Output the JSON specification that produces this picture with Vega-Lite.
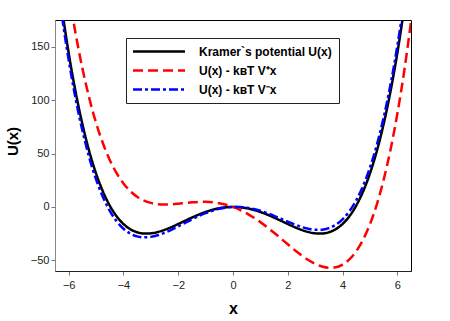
{
  "$schema": "https://vega.github.io/schema/vega-lite/v6.json",
  "width": 356,
  "height": 251,
  "autosize": {"type": "none"},
  "padding": {"left": 55, "top": 20, "right": 39, "bottom": 50},
  "background": "white",
  "config": {
    "font": "Liberation Sans",
    "view": {"stroke": "black", "strokeWidth": 1},
    "legend": {
      "title": null, "orient": "none", "legendX": 71, "legendY": 18,
      "symbolType": "M-5.2,0H5.2", "symbolSize": 100, "symbolStrokeWidth": 2.5,
      "labelFontSize": 12, "labelFontWeight": "bold", "labelColor": "black",
      "labelOffset": 53, "padding": 7, "rowPadding": 6,
      "strokeColor": "#222", "fillColor": "white"
    }
  },
  "datasets": {
    "curves": [
      {"x": -6.5, "y": 235.02, "s": "Kramer`s potential U(x)"},
      {"x": -6.25, "y": 186.16, "s": "Kramer`s potential U(x)"},
      {"x": -6, "y": 144, "s": "Kramer`s potential U(x)"},
      {"x": -5.75, "y": 107.97, "s": "Kramer`s potential U(x)"},
      {"x": -5.5, "y": 77.52, "s": "Kramer`s potential U(x)"},
      {"x": -5.25, "y": 52.11, "s": "Kramer`s potential U(x)"},
      {"x": -5, "y": 31.25, "s": "Kramer`s potential U(x)"},
      {"x": -4.75, "y": 14.46, "s": "Kramer`s potential U(x)"},
      {"x": -4.5, "y": 1.27, "s": "Kramer`s potential U(x)"},
      {"x": -4.25, "y": -8.75, "s": "Kramer`s potential U(x)"},
      {"x": -4, "y": -16, "s": "Kramer`s potential U(x)"},
      {"x": -3.75, "y": -20.88, "s": "Kramer`s potential U(x)"},
      {"x": -3.5, "y": -23.73, "s": "Kramer`s potential U(x)"},
      {"x": -3.25, "y": -24.92, "s": "Kramer`s potential U(x)"},
      {"x": -3, "y": -24.75, "s": "Kramer`s potential U(x)"},
      {"x": -2.75, "y": -23.51, "s": "Kramer`s potential U(x)"},
      {"x": -2.5, "y": -21.48, "s": "Kramer`s potential U(x)"},
      {"x": -2.25, "y": -18.91, "s": "Kramer`s potential U(x)"},
      {"x": -2, "y": -16, "s": "Kramer`s potential U(x)"},
      {"x": -1.75, "y": -12.97, "s": "Kramer`s potential U(x)"},
      {"x": -1.5, "y": -9.98, "s": "Kramer`s potential U(x)"},
      {"x": -1.25, "y": -7.2, "s": "Kramer`s potential U(x)"},
      {"x": -1, "y": -4.75, "s": "Kramer`s potential U(x)"},
      {"x": -0.75, "y": -2.73, "s": "Kramer`s potential U(x)"},
      {"x": -0.5, "y": -1.23, "s": "Kramer`s potential U(x)"},
      {"x": -0.25, "y": -0.31, "s": "Kramer`s potential U(x)"},
      {"x": 0, "y": 0, "s": "Kramer`s potential U(x)"},
      {"x": 0.25, "y": -0.31, "s": "Kramer`s potential U(x)"},
      {"x": 0.5, "y": -1.23, "s": "Kramer`s potential U(x)"},
      {"x": 0.75, "y": -2.73, "s": "Kramer`s potential U(x)"},
      {"x": 1, "y": -4.75, "s": "Kramer`s potential U(x)"},
      {"x": 1.25, "y": -7.2, "s": "Kramer`s potential U(x)"},
      {"x": 1.5, "y": -9.98, "s": "Kramer`s potential U(x)"},
      {"x": 1.75, "y": -12.97, "s": "Kramer`s potential U(x)"},
      {"x": 2, "y": -16, "s": "Kramer`s potential U(x)"},
      {"x": 2.25, "y": -18.91, "s": "Kramer`s potential U(x)"},
      {"x": 2.5, "y": -21.48, "s": "Kramer`s potential U(x)"},
      {"x": 2.75, "y": -23.51, "s": "Kramer`s potential U(x)"},
      {"x": 3, "y": -24.75, "s": "Kramer`s potential U(x)"},
      {"x": 3.25, "y": -24.92, "s": "Kramer`s potential U(x)"},
      {"x": 3.5, "y": -23.73, "s": "Kramer`s potential U(x)"},
      {"x": 3.75, "y": -20.88, "s": "Kramer`s potential U(x)"},
      {"x": 4, "y": -16, "s": "Kramer`s potential U(x)"},
      {"x": 4.25, "y": -8.75, "s": "Kramer`s potential U(x)"},
      {"x": 4.5, "y": 1.27, "s": "Kramer`s potential U(x)"},
      {"x": 4.75, "y": 14.46, "s": "Kramer`s potential U(x)"},
      {"x": 5, "y": 31.25, "s": "Kramer`s potential U(x)"},
      {"x": 5.25, "y": 52.11, "s": "Kramer`s potential U(x)"},
      {"x": 5.5, "y": 77.52, "s": "Kramer`s potential U(x)"},
      {"x": 5.75, "y": 107.97, "s": "Kramer`s potential U(x)"},
      {"x": 6, "y": 144, "s": "Kramer`s potential U(x)"},
      {"x": 6.25, "y": 186.16, "s": "Kramer`s potential U(x)"},
      {"x": 6.5, "y": 235.02, "s": "Kramer`s potential U(x)"},

      {"x": -6.5, "y": 296.77, "s": "U(x) - kʙT V⁺x"},
      {"x": -6.25, "y": 245.54, "s": "U(x) - kʙT V⁺x"},
      {"x": -6, "y": 201, "s": "U(x) - kʙT V⁺x"},
      {"x": -5.75, "y": 162.6, "s": "U(x) - kʙT V⁺x"},
      {"x": -5.5, "y": 129.77, "s": "U(x) - kʙT V⁺x"},
      {"x": -5.25, "y": 101.99, "s": "U(x) - kʙT V⁺x"},
      {"x": -5, "y": 78.75, "s": "U(x) - kʙT V⁺x"},
      {"x": -4.75, "y": 59.59, "s": "U(x) - kʙT V⁺x"},
      {"x": -4.5, "y": 44.02, "s": "U(x) - kʙT V⁺x"},
      {"x": -4.25, "y": 31.63, "s": "U(x) - kʙT V⁺x"},
      {"x": -4, "y": 22, "s": "U(x) - kʙT V⁺x"},
      {"x": -3.75, "y": 14.75, "s": "U(x) - kʙT V⁺x"},
      {"x": -3.5, "y": 9.52, "s": "U(x) - kʙT V⁺x"},
      {"x": -3.25, "y": 5.96, "s": "U(x) - kʙT V⁺x"},
      {"x": -3, "y": 3.75, "s": "U(x) - kʙT V⁺x"},
      {"x": -2.75, "y": 2.62, "s": "U(x) - kʙT V⁺x"},
      {"x": -2.5, "y": 2.27, "s": "U(x) - kʙT V⁺x"},
      {"x": -2.25, "y": 2.47, "s": "U(x) - kʙT V⁺x"},
      {"x": -2, "y": 3, "s": "U(x) - kʙT V⁺x"},
      {"x": -1.75, "y": 3.66, "s": "U(x) - kʙT V⁺x"},
      {"x": -1.5, "y": 4.27, "s": "U(x) - kʙT V⁺x"},
      {"x": -1.25, "y": 4.67, "s": "U(x) - kʙT V⁺x"},
      {"x": -1, "y": 4.75, "s": "U(x) - kʙT V⁺x"},
      {"x": -0.75, "y": 4.39, "s": "U(x) - kʙT V⁺x"},
      {"x": -0.5, "y": 3.52, "s": "U(x) - kʙT V⁺x"},
      {"x": -0.25, "y": 2.06, "s": "U(x) - kʙT V⁺x"},
      {"x": 0, "y": 0, "s": "U(x) - kʙT V⁺x"},
      {"x": 0.25, "y": -2.69, "s": "U(x) - kʙT V⁺x"},
      {"x": 0.5, "y": -5.98, "s": "U(x) - kʙT V⁺x"},
      {"x": 0.75, "y": -9.86, "s": "U(x) - kʙT V⁺x"},
      {"x": 1, "y": -14.25, "s": "U(x) - kʙT V⁺x"},
      {"x": 1.25, "y": -19.08, "s": "U(x) - kʙT V⁺x"},
      {"x": 1.5, "y": -24.23, "s": "U(x) - kʙT V⁺x"},
      {"x": 1.75, "y": -29.6, "s": "U(x) - kʙT V⁺x"},
      {"x": 2, "y": -35, "s": "U(x) - kʙT V⁺x"},
      {"x": 2.25, "y": -40.29, "s": "U(x) - kʙT V⁺x"},
      {"x": 2.5, "y": -45.23, "s": "U(x) - kʙT V⁺x"},
      {"x": 2.75, "y": -49.64, "s": "U(x) - kʙT V⁺x"},
      {"x": 3, "y": -53.25, "s": "U(x) - kʙT V⁺x"},
      {"x": 3.25, "y": -55.8, "s": "U(x) - kʙT V⁺x"},
      {"x": 3.5, "y": -56.98, "s": "U(x) - kʙT V⁺x"},
      {"x": 3.75, "y": -56.51, "s": "U(x) - kʙT V⁺x"},
      {"x": 4, "y": -54, "s": "U(x) - kʙT V⁺x"},
      {"x": 4.25, "y": -49.13, "s": "U(x) - kʙT V⁺x"},
      {"x": 4.5, "y": -41.48, "s": "U(x) - kʙT V⁺x"},
      {"x": 4.75, "y": -30.67, "s": "U(x) - kʙT V⁺x"},
      {"x": 5, "y": -16.25, "s": "U(x) - kʙT V⁺x"},
      {"x": 5.25, "y": 2.24, "s": "U(x) - kʙT V⁺x"},
      {"x": 5.5, "y": 25.27, "s": "U(x) - kʙT V⁺x"},
      {"x": 5.75, "y": 53.35, "s": "U(x) - kʙT V⁺x"},
      {"x": 6, "y": 87, "s": "U(x) - kʙT V⁺x"},
      {"x": 6.25, "y": 126.79, "s": "U(x) - kʙT V⁺x"},
      {"x": 6.5, "y": 173.27, "s": "U(x) - kʙT V⁺x"},

      {"x": -6.5, "y": 227.87, "s": "U(x) - kʙT V⁻x"},
      {"x": -6.25, "y": 179.29, "s": "U(x) - kʙT V⁻x"},
      {"x": -6, "y": 137.4, "s": "U(x) - kʙT V⁻x"},
      {"x": -5.75, "y": 101.65, "s": "U(x) - kʙT V⁻x"},
      {"x": -5.5, "y": 71.47, "s": "U(x) - kʙT V⁻x"},
      {"x": -5.25, "y": 46.34, "s": "U(x) - kʙT V⁻x"},
      {"x": -5, "y": 25.75, "s": "U(x) - kʙT V⁻x"},
      {"x": -4.75, "y": 9.24, "s": "U(x) - kʙT V⁻x"},
      {"x": -4.5, "y": -3.68, "s": "U(x) - kʙT V⁻x"},
      {"x": -4.25, "y": -13.43, "s": "U(x) - kʙT V⁻x"},
      {"x": -4, "y": -20.4, "s": "U(x) - kʙT V⁻x"},
      {"x": -3.75, "y": -25.0, "s": "U(x) - kʙT V⁻x"},
      {"x": -3.5, "y": -27.58, "s": "U(x) - kʙT V⁻x"},
      {"x": -3.25, "y": -28.5, "s": "U(x) - kʙT V⁻x"},
      {"x": -3, "y": -28.05, "s": "U(x) - kʙT V⁻x"},
      {"x": -2.75, "y": -26.54, "s": "U(x) - kʙT V⁻x"},
      {"x": -2.5, "y": -24.23, "s": "U(x) - kʙT V⁻x"},
      {"x": -2.25, "y": -21.39, "s": "U(x) - kʙT V⁻x"},
      {"x": -2, "y": -18.2, "s": "U(x) - kʙT V⁻x"},
      {"x": -1.75, "y": -14.9, "s": "U(x) - kʙT V⁻x"},
      {"x": -1.5, "y": -11.63, "s": "U(x) - kʙT V⁻x"},
      {"x": -1.25, "y": -8.58, "s": "U(x) - kʙT V⁻x"},
      {"x": -1, "y": -5.85, "s": "U(x) - kʙT V⁻x"},
      {"x": -0.75, "y": -3.56, "s": "U(x) - kʙT V⁻x"},
      {"x": -0.5, "y": -1.78, "s": "U(x) - kʙT V⁻x"},
      {"x": -0.25, "y": -0.59, "s": "U(x) - kʙT V⁻x"},
      {"x": 0, "y": 0, "s": "U(x) - kʙT V⁻x"},
      {"x": 0.25, "y": -0.04, "s": "U(x) - kʙT V⁻x"},
      {"x": 0.5, "y": -0.68, "s": "U(x) - kʙT V⁻x"},
      {"x": 0.75, "y": -1.91, "s": "U(x) - kʙT V⁻x"},
      {"x": 1, "y": -3.65, "s": "U(x) - kʙT V⁻x"},
      {"x": 1.25, "y": -5.83, "s": "U(x) - kʙT V⁻x"},
      {"x": 1.5, "y": -8.33, "s": "U(x) - kʙT V⁻x"},
      {"x": 1.75, "y": -11.05, "s": "U(x) - kʙT V⁻x"},
      {"x": 2, "y": -13.8, "s": "U(x) - kʙT V⁻x"},
      {"x": 2.25, "y": -16.44, "s": "U(x) - kʙT V⁻x"},
      {"x": 2.5, "y": -18.73, "s": "U(x) - kʙT V⁻x"},
      {"x": 2.75, "y": -20.49, "s": "U(x) - kʙT V⁻x"},
      {"x": 3, "y": -21.45, "s": "U(x) - kʙT V⁻x"},
      {"x": 3.25, "y": -21.35, "s": "U(x) - kʙT V⁻x"},
      {"x": 3.5, "y": -19.88, "s": "U(x) - kʙT V⁻x"},
      {"x": 3.75, "y": -16.76, "s": "U(x) - kʙT V⁻x"},
      {"x": 4, "y": -11.6, "s": "U(x) - kʙT V⁻x"},
      {"x": 4.25, "y": -4.08, "s": "U(x) - kʙT V⁻x"},
      {"x": 4.5, "y": 6.22, "s": "U(x) - kʙT V⁻x"},
      {"x": 4.75, "y": 19.69, "s": "U(x) - kʙT V⁻x"},
      {"x": 5, "y": 36.75, "s": "U(x) - kʙT V⁻x"},
      {"x": 5.25, "y": 57.89, "s": "U(x) - kʙT V⁻x"},
      {"x": 5.5, "y": 83.57, "s": "U(x) - kʙT V⁻x"},
      {"x": 5.75, "y": 114.3, "s": "U(x) - kʙT V⁻x"},
      {"x": 6, "y": 150.6, "s": "U(x) - kʙT V⁻x"},
      {"x": 6.25, "y": 193.04, "s": "U(x) - kʙT V⁻x"},
      {"x": 6.5, "y": 242.17, "s": "U(x) - kʙT V⁻x"}
    ]
  },
  "data": {"name": "curves"},
  "mark": {"type": "line", "clip": true, "strokeWidth": 2.5, "interpolate": "monotone"},
  "encoding": {
    "x": {
      "field": "x", "type": "quantitative",
      "scale": {"domain": [-6.5, 6.5], "nice": false, "zero": false},
      "axis": {
        "title": "x", "values": [-6, -4, -2, 0, 2, 4, 6], "grid": false,
        "labelFontSize": 11, "labelColor": "#222", "labelPadding": 4,
        "tickSize": 4, "tickColor": "#777", "domainColor": "#222",
        "titleFontSize": 16, "titleFontWeight": "bold", "titleColor": "black",
        "titleY": 37, "titleBaseline": "middle"
      }
    },
    "y": {
      "field": "y", "type": "quantitative",
      "scale": {"domain": [-60, 175], "nice": false, "zero": false},
      "axis": {
        "title": "U(x)", "values": [-50, 0, 50, 100, 150], "grid": false,
        "labelFontSize": 11, "labelColor": "#222", "labelPadding": 2,
        "tickSize": 4, "tickColor": "#777", "domainColor": "#888",
        "titleFontSize": 15, "titleFontWeight": "bold", "titleColor": "black",
        "titleX": -43, "titleY": 121, "titleBaseline": "middle", "titleAngle": -90
      }
    },
    "color": {
      "field": "s", "type": "nominal",
      "scale": {
        "domain": ["Kramer`s potential U(x)", "U(x) - kʙT V⁺x", "U(x) - kʙT V⁻x"],
        "range": ["black", "#ff0000", "#0000ff"]
      },
      "legend": {
        "encoding": {"symbols": {"x": {"value": 26}}}
      }
    },
    "strokeDash": {
      "field": "s", "type": "nominal",
      "scale": {
        "domain": ["Kramer`s potential U(x)", "U(x) - kʙT V⁺x", "U(x) - kʙT V⁻x"],
        "range": [[1, 0], [10, 5], [9, 3, 3, 3]]
      },
      "legend": {
        "encoding": {"symbols": {"x": {"value": 26}}}
      }
    }
  }
}
